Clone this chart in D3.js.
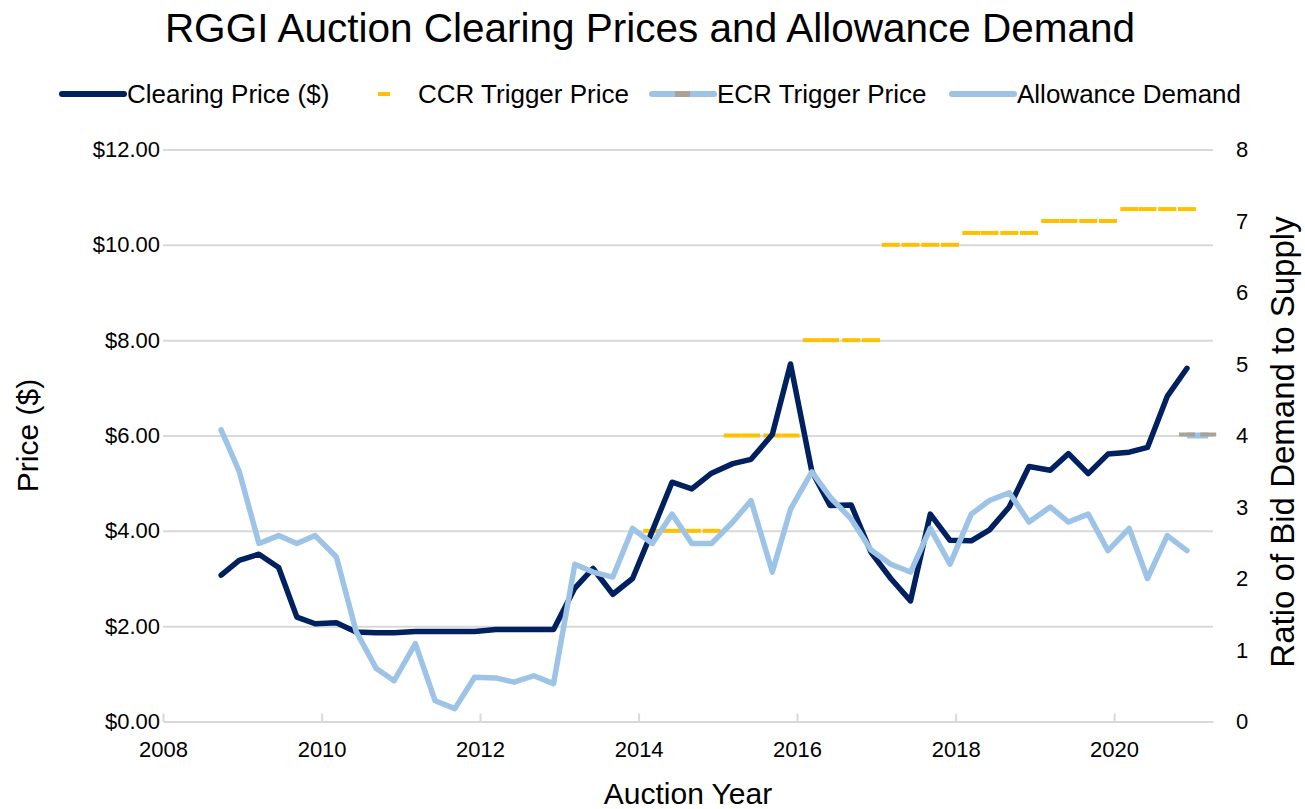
<!DOCTYPE html>
<html>
<head>
<meta charset="utf-8">
<script src="https://cdn.jsdelivr.net/npm/d3@7"></script>
<style>
  html, body { margin: 0; padding: 0; background: #fff; }
  svg { display: block; font-family: "Liberation Sans", Arial, sans-serif; }
</style>
</head>
<body>
<div id="chart"></div>
<script>
// RGGI quarterly auctions: clearing price ($) and bid demand / supply ratio
const auctionDates = [
  '2008-09-25', '2008-12-17',
  '2009-03-18', '2009-06-17', '2009-09-09', '2009-12-02',
  '2010-03-10', '2010-06-09', '2010-09-10', '2010-12-01',
  '2011-03-09', '2011-06-08', '2011-09-07', '2011-12-07',
  '2012-03-14', '2012-06-06', '2012-09-05', '2012-12-05',
  '2013-03-13', '2013-06-05', '2013-09-04', '2013-12-04',
  '2014-03-05', '2014-06-04', '2014-09-03', '2014-12-03',
  '2015-03-11', '2015-06-03', '2015-09-09', '2015-12-02',
  '2016-03-09', '2016-06-01', '2016-09-07', '2016-12-07',
  '2017-03-08', '2017-06-07', '2017-09-06', '2017-12-06',
  '2018-03-14', '2018-06-06', '2018-09-05', '2018-12-05',
  '2019-03-13', '2019-06-05', '2019-09-04', '2019-12-04',
  '2020-03-11', '2020-06-03', '2020-09-02', '2020-12-02',
];

const clearingPrice = [
  3.07, 3.38,
  3.51, 3.23, 2.19, 2.05,
  2.07, 1.88, 1.86, 1.86,
  1.89, 1.89, 1.89, 1.89,
  1.93, 1.93, 1.93, 1.93,
  2.80, 3.21, 2.67, 3.00,
  4.00, 5.02, 4.88, 5.21,
  5.41, 5.50, 6.02, 7.50,
  5.25, 4.53, 4.54, 3.55,
  3.00, 2.53, 4.35, 3.80,
  3.79, 4.02, 4.50, 5.35,
  5.27, 5.62, 5.20, 5.61,
  5.65, 5.75, 6.82, 7.41,
];

const allowanceDemand = [
  4.08, 3.50,
  2.49, 2.60, 2.49, 2.60,
  2.30, 1.26, 0.74, 0.57,
  1.09, 0.29, 0.18, 0.62,
  0.61, 0.55, 0.64, 0.53,
  2.20, 2.09, 2.02, 2.70,
  2.49, 2.90, 2.49, 2.49,
  2.79, 3.09, 2.09, 2.97,
  3.49, 3.14, 2.83, 2.40,
  2.20, 2.09, 2.70, 2.20,
  2.90, 3.09, 3.20, 2.79,
  3.00, 2.79, 2.90, 2.39,
  2.70, 2.00, 2.60, 2.39,
];

// cost containment reserve trigger, one price per year
const ccrYears = [2014, 2015, 2016, 2017, 2018, 2019, 2020];
const ccrPrices = [4.00, 6.00, 8.00, 10.00, 10.25, 10.50, 10.75];

// emissions containment reserve trigger
const ecrDates = ['2020-12-02', '2021-03-10'];
const ecrPrices = [6.00, 6.00];

const priceTicks = [0, 2, 4, 6, 8, 10, 12];
const ratioTicks = [0, 1, 2, 3, 4, 5, 6, 7, 8];
const yearTicks = [2008, 2010, 2012, 2014, 2016, 2018, 2020];

const legendItems = [
  { label: 'Clearing Price ($)', kind: 'price' },
  { label: 'CCR Trigger Price', kind: 'ccr' },
  { label: 'ECR Trigger Price', kind: 'ecr' },
  { label: 'Allowance Demand', kind: 'demand' },
];

const C = {
  price: '#002060',
  demand: '#9DC3E6',
  ccr: '#FFC000',
  ecr: '#A8A395',
  grid: '#D9D9D9',
};

const W = 1305, H = 809;
const margin = { top: 149.5, right: 92, bottom: 87.5, left: 163 };
const w = W - margin.left - margin.right;
const h = H - margin.top - margin.bottom;
const FONT = '"Liberation Sans", Arial, sans-serif';

const parse = d3.utcParse('%Y-%m-%d');
const auctions = auctionDates.map((d, i) => ({
  date: parse(d), price: clearingPrice[i], demand: allowanceDemand[i],
}));
const ccr = [];
ccrYears.forEach((yr, i) => {
  auctions.filter(a => a.date.getUTCFullYear() === yr)
    .forEach(a => ccr.push({ date: a.date, price: ccrPrices[i] }));
});
const ecr = ecrDates.map((d, i) => ({ date: parse(d), price: ecrPrices[i] }));

const x = d3.scaleUtc()
  .domain([parse('2008-01-01'), parse('2021-04-01')])
  .range([0, w]);
const y = d3.scaleLinear().domain([0, 12]).range([h, 0]);
const y2 = d3.scaleLinear().domain([0, 8]).range([h, 0]);

const svg = d3.select('#chart').append('svg')
  .attr('width', W).attr('height', H)
  .attr('viewBox', `0 0 ${W} ${H}`);

svg.append('text')
  .attr('x', 650).attr('y', 42)
  .attr('text-anchor', 'middle')
  .attr('font-size', 40.5).attr('fill', '#000')
  .text('RGGI Auction Clearing Prices and Allowance Demand');

const g = svg.append('g').attr('transform', `translate(${margin.left},${margin.top})`);

// gridlines
g.append('g')
  .call(d3.axisLeft(y).tickValues(priceTicks.slice(1)).tickSize(-w).tickFormat(''))
  .call(s => s.select('.domain').remove())
  .selectAll('line').attr('stroke', C.grid).attr('stroke-width', 2);

// left axis labels
g.append('g')
  .call(d3.axisLeft(y).tickValues(priceTicks).tickSize(0).tickPadding(3)
    .tickFormat(d => '$' + d.toFixed(2)))
  .call(s => s.select('.domain').remove())
  .selectAll('text').attr('font-size', 22).attr('fill', '#000')
  .attr('font-family', FONT);

// right axis labels
g.append('g')
  .attr('transform', `translate(${w},0)`)
  .call(d3.axisRight(y2).tickValues(ratioTicks).tickSize(0).tickPadding(23))
  .call(s => s.select('.domain').remove())
  .selectAll('text').attr('font-size', 22).attr('fill', '#000')
  .attr('font-family', FONT);

// bottom axis, ticks pointing up into the plot
const xAxis = g.append('g')
  .attr('transform', `translate(0,${h})`)
  .call(d3.axisBottom(x)
    .tickValues(yearTicks.map(yr => new Date(Date.UTC(yr, 0, 1))))
    .tickSizeInner(-8).tickSizeOuter(0).tickPadding(20)
    .tickFormat(d3.utcFormat('%Y')));
xAxis.select('.domain').attr('stroke', C.grid).attr('stroke-width', 2);
xAxis.selectAll('line').attr('stroke', C.grid).attr('stroke-width', 2);
xAxis.selectAll('text').attr('font-size', 22).attr('fill', '#000')
  .attr('font-family', FONT);

// axis titles
svg.append('text')
  .attr('transform', `translate(38,${margin.top + h / 2}) rotate(-90)`)
  .attr('text-anchor', 'middle').attr('font-size', 30).attr('fill', '#000')
  .text('Price ($)');
svg.append('text')
  .attr('transform', `translate(1294,442) rotate(-90)`)
  .attr('text-anchor', 'middle').attr('font-size', 33).attr('fill', '#000')
  .text('Ratio of Bid Demand to Supply');
svg.append('text')
  .attr('x', margin.left + w / 2).attr('y', 804)
  .attr('text-anchor', 'middle').attr('font-size', 30).attr('fill', '#000')
  .text('Auction Year');

// CCR trigger: dash markers only
g.append('g').selectAll('rect').data(ccr).join('rect')
  .attr('x', d => x(d.date) - 9).attr('y', d => y(d.price) - 2)
  .attr('width', 18).attr('height', 4)
  .attr('fill', C.ccr);

// clearing price
const priceLine = d3.line().x(d => x(d.date)).y(d => y(d.price));
g.append('path').datum(auctions)
  .attr('fill', 'none').attr('stroke', C.price).attr('stroke-width', 5.5)
  .attr('stroke-linejoin', 'round').attr('stroke-linecap', 'round')
  .attr('d', priceLine);

// allowance demand (right axis)
const demandLine = d3.line().x(d => x(d.date)).y(d => y2(d.demand));
g.append('path').datum(auctions)
  .attr('fill', 'none').attr('stroke', C.demand).attr('stroke-width', 5.5)
  .attr('stroke-linejoin', 'round').attr('stroke-linecap', 'round')
  .attr('d', demandLine);

// ECR trigger: light blue line + grey dash markers
g.append('path').datum(ecr)
  .attr('fill', 'none').attr('stroke', C.demand).attr('stroke-width', 6)
  .attr('d', priceLine);
g.append('g').selectAll('rect').data(ecr).join('rect')
  .attr('x', d => x(d.date) - 8).attr('y', d => y(d.price) - 3)
  .attr('width', 16).attr('height', 4)
  .attr('fill', C.ecr);

// legend
const legendX = [62, 378, 652, 952];
const lg = svg.append('g').attr('transform', 'translate(0,94)');
legendItems.forEach((it, i) => {
  const item = lg.append('g').attr('transform', `translate(${legendX[i]},0)`);
  let textX = 65;
  if (it.kind === 'price' || it.kind === 'demand' || it.kind === 'ecr') {
    item.append('line').attr('x1', 0).attr('x2', 62).attr('y1', 0).attr('y2', 0)
      .attr('stroke', it.kind === 'price' ? C.price : C.demand)
      .attr('stroke-width', 6).attr('stroke-linecap', 'round');
    if (it.kind === 'ecr') {
      item.append('rect').attr('x', 23).attr('y', -3).attr('width', 15).attr('height', 6)
        .attr('fill', C.ecr);
    }
  } else {
    item.append('rect').attr('x', 0).attr('y', -2).attr('width', 12).attr('height', 4)
      .attr('fill', C.ccr);
    textX = 40;
  }
  item.append('text').attr('x', textX).attr('y', 9)
    .attr('font-size', 26).attr('fill', '#000')
    .text(it.label);
});
</script>
</body>
</html>
